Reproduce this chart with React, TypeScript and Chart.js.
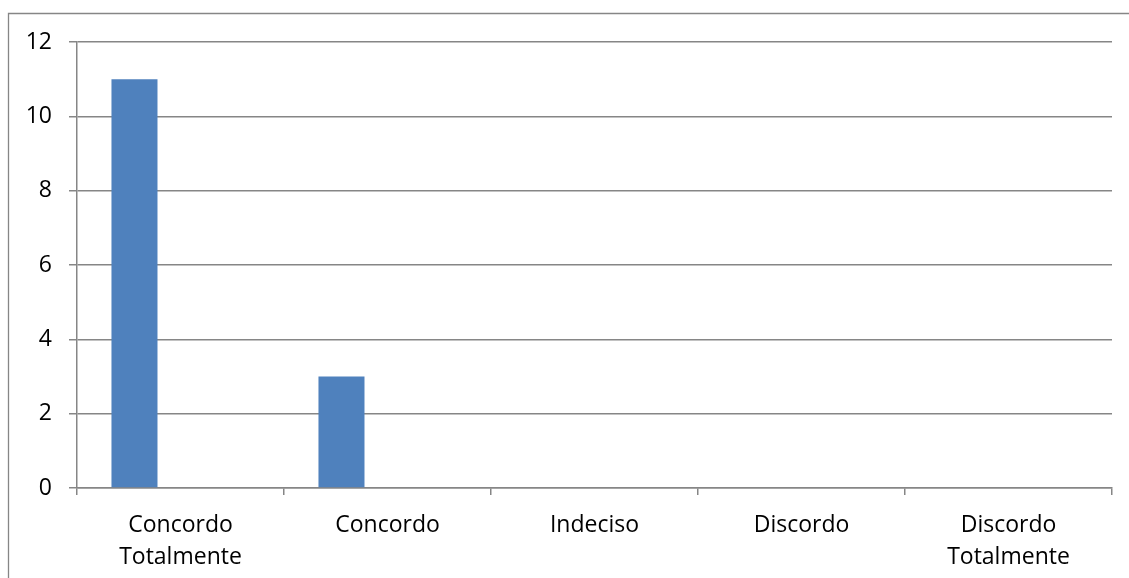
import React, { useEffect, useRef } from "react";
import { Chart, registerables } from "chart.js";

Chart.register(...registerables);

const categories: (string | string[])[] = [
  ["Concordo", "Totalmente"],
  "Concordo",
  "Indeciso",
  "Discordo",
  ["Discordo", "Totalmente"],
];
const series1: number[] = [11, 3, 0, 0, 0];
const series2: number[] = [0, 0, 0, 0, 0];
const series3: number[] = [0, 0, 0, 0, 0];
const yTicks: number[] = [0, 2, 4, 6, 8, 10, 12];

const GRAY = "#868686";
const FONT = "'Open Sans', sans-serif";

const framePlugin = {
  id: "frame",
  beforeDraw(chart: any) {
    const ctx = chart.ctx;
    ctx.save();
    ctx.fillStyle = "#ffffff";
    ctx.fillRect(0, 0, chart.width, chart.height);
    ctx.strokeStyle = GRAY;
    ctx.lineWidth = 1.3;
    ctx.beginPath();
    ctx.moveTo(8.5, chart.height);
    ctx.lineTo(8.5, 13.5);
    ctx.lineTo(chart.width, 13.5);
    ctx.stroke();
    ctx.restore();
  },
};

export default function App() {
  const ref = useRef<HTMLCanvasElement>(null);
  useEffect(() => {
    if (!ref.current) return;
    const chart = new Chart(ref.current, {
      type: "bar",
      data: {
        labels: categories,
        datasets: [
          { label: "S1", data: series1, backgroundColor: "#4F81BD", borderWidth: 0, categoryPercentage: 0.667, barPercentage: 1 },
          { label: "S2", data: series2, backgroundColor: "#C0504D", borderWidth: 0, categoryPercentage: 0.667, barPercentage: 1 },
          { label: "S3", data: series3, backgroundColor: "#9BBB59", borderWidth: 0, categoryPercentage: 0.667, barPercentage: 1 },
        ],
      },
      options: {
        responsive: false,
        animation: false,
        layout: { padding: { top: 42, right: 17, left: 0, bottom: 0 } },
        plugins: { legend: { display: false }, tooltip: { enabled: false } },
        scales: {
          x: {
            offset: true,
            grid: {
              offset: true,
              drawOnChartArea: false,
              drawTicks: true,
              tickLength: 7,
              color: GRAY,
              lineWidth: 1.5,
            },
            border: { display: true, color: GRAY, width: 1.5 },
            ticks: {
              color: "#000000",
              padding: 15,
              maxRotation: 0,
              autoSkip: false,
              font: { family: FONT, size: 23, lineHeight: 1.38 },
            },
            afterFit(scale: any) {
              scale.height = 90;
            },
          },
          y: {
            min: 0,
            max: 12,
            afterBuildTicks(scale: any) {
              scale.ticks = yTicks.map((v) => ({ value: v }));
            },
            grid: { color: GRAY, tickLength: 8, drawTicks: true, lineWidth: 1.5 },
            border: { display: true, color: GRAY, width: 1.5 },
            ticks: {
              color: "#000000",
              padding: 17,
              font: { family: FONT, size: 23 },
            },
            afterFit(scale: any) {
              scale.width = 77;
            },
          },
        },
      },
      plugins: [framePlugin],
    });
    return () => chart.destroy();
  }, []);
  return (
    <div style={{ position: "fixed", left: 0, top: 0, width: 1129, height: 578, background: "#fff" }}>
      <canvas ref={ref} width={1129} height={578} style={{ display: "block" }} />
    </div>
  );
}
